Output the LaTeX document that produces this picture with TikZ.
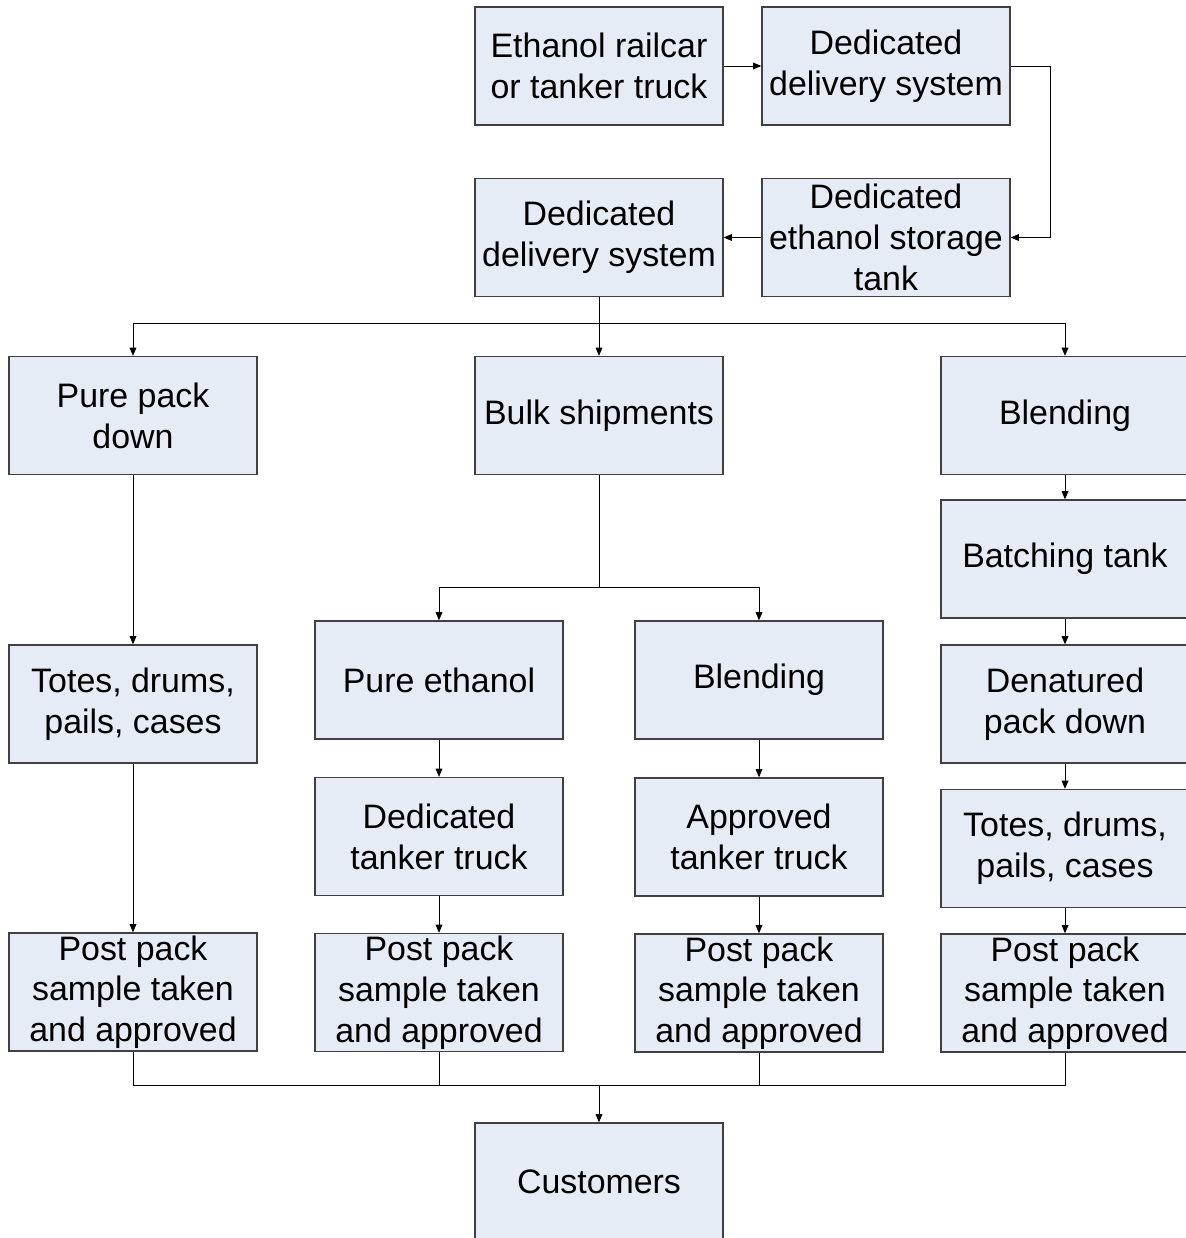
\documentclass[tikz,border=0pt]{standalone}
\usepackage{fontspec}
\setmainfont{Liberation Sans}
\usetikzlibrary{arrows.meta}
\definecolor{boxfill}{RGB}{230,236,246}
\definecolor{boxline}{RGB}{64,64,64}
\tikzset{
	stage/.style={draw=boxline,fill=boxfill,line width=0.8pt,minimum width=4.96cm,minimum height=2.36cm,align=center,inner sep=1pt,font=\fontsize{19.3}{23.2}\selectfont},
	flow/.style={-{Triangle[length=4.6pt,width=3.8pt]},line width=0.55pt},
	link/.style={line width=0.55pt}
}
\begin{document}
\begin{tikzpicture}[x=0.02cm,y=-0.02cm]
	\useasboundingbox (0,0) rectangle (1186,1238);
	\clip (0,0) rectangle (1186,1238);
	
	\node[stage] (rail) at (599,66) {Ethanol railcar\\or tanker truck};
	\node[stage] (dtop) at (886,66) {Dedicated\\delivery system};
	\node[stage] (store) at (886,237.5) {Dedicated\\ethanol storage\\tank};
	\node[stage] (dmid) at (599,237.5) {Dedicated\\delivery system};
	
	\node[stage] (ppd) at (133,415.5) {Pure pack\\down};
	\node[stage] (bulk) at (599,415.5) {Bulk shipments};
	\node[stage] (blendR) at (1065,415.5) {Blending};
	
	\node[stage] (totesL) at (133,704) {Totes, drums,\\pails, cases};
	\node[stage] (pureeth) at (439,680) {Pure ethanol};
	\node[stage] (blendM) at (759,680) {Blending};
	\node[stage] (dedtruck) at (439,836.5) {Dedicated\\tanker truck};
	\node[stage] (apptruck) at (759,837) {Approved\\tanker truck};
	
	\node[stage] (batch) at (1065,559) {Batching tank};
	\node[stage] (denat) at (1065,704) {Denatured\\pack down};
	\node[stage] (totesR) at (1065,848.5) {Totes, drums,\\pails, cases};
	
	\foreach \n/\x/\y in {postA/133/992,postB/439/992.5,postC/759/993,postD/1065/993}{
		\node[stage] (\n) at (\x,\y) {Post pack\\sample taken\\and approved};
	}
	\node[stage] (cust) at (599,1182) {Customers};
	
	\coordinate (split) at (599,323);
	\coordinate (splitB) at (599,587);
	\coordinate (join) at (599,1085);
	
	\draw[flow] (rail) -- (dtop);
	\draw[flow] (dtop.east) -- ++(40,0) |- (store.east);
	\draw[flow] (store) -- (dmid);
	
	\draw[link] (dmid) -- (split);
	\draw[flow] (split) -| (ppd);
	\draw[flow] (split) -- (bulk);
	\draw[flow] (split) -| (blendR);
	
	\draw[link] (bulk) -- (splitB);
	\draw[flow] (splitB) -| (pureeth);
	\draw[flow] (splitB) -| (blendM);
	
	\foreach \a/\b in {ppd/totesL,totesL/postA,pureeth/dedtruck,dedtruck/postB,blendM/apptruck,apptruck/postC,blendR/batch,batch/denat,denat/totesR,totesR/postD}{
		\draw[flow] (\a) -- (\b);
	}
	
	\foreach \n in {postA,postB,postC,postD}{
		\draw[link] (\n.south) |- (join);
	}
	\draw[flow] (join) -- (cust);
\end{tikzpicture}
\end{document}
